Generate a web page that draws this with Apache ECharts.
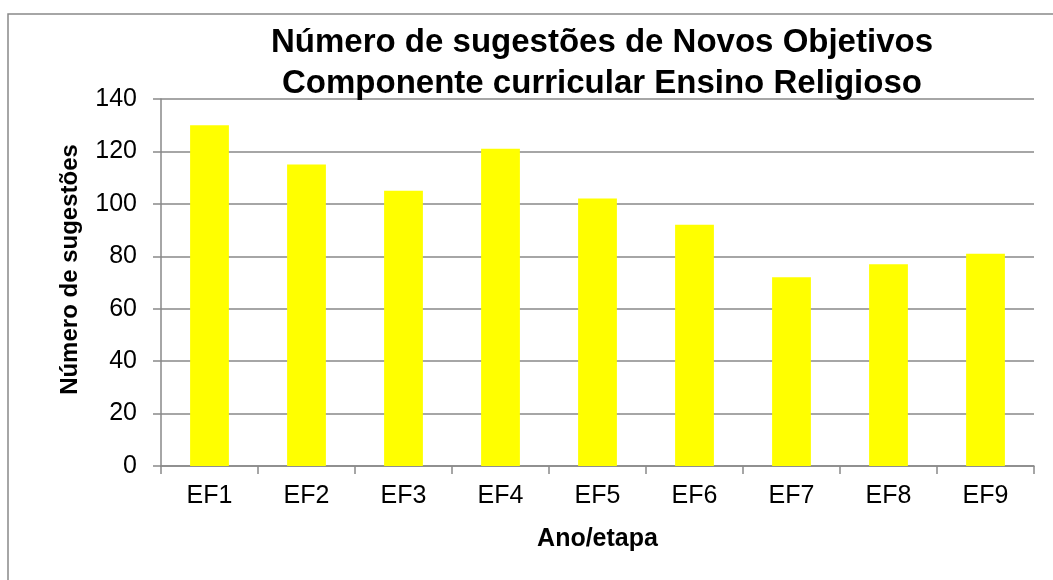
<!DOCTYPE html>
<html>
<head>
<meta charset="utf-8">
<script src="https://cdn.jsdelivr.net/npm/echarts@6/dist/echarts.min.js"></script>
<style>
  html, body { margin: 0; padding: 0; background: #fff; }
  #chart { width: 1053px; height: 580px; }
</style>
</head>
<body>
<div id="chart"></div>
<script>
const categories = ["EF1", "EF2", "EF3", "EF4", "EF5", "EF6", "EF7", "EF8", "EF9"];
const suggestions = [130, 115, 105, 121, 102, 92, 72, 77, 81];
const yTicks = { min: 0, max: 140, interval: 20 };

const chart = echarts.init(document.getElementById("chart"), null, { renderer: "canvas" });
const font = "Liberation Sans, Arial, sans-serif";
const gray = "#898989";

chart.setOption({
  animation: false,
  textStyle: { fontFamily: font },
  graphic: [
    {
      type: "rect",
      shape: { x: 8, y: 14, width: 1060, height: 600 },
      style: { fill: "none", stroke: gray, lineWidth: 1.5 },
      silent: true
    }
  ],
  title: {
    text: "Número de sugestões de Novos Objetivos\nComponente curricular Ensino Religioso",
    left: 597,
    textAlign: "center",
    top: 17,
    textStyle: { fontFamily: font, fontSize: 33, fontWeight: "bold", color: "#000", lineHeight: 41 }
  },
  grid: { left: 161, right: 19, top: 99, bottom: 114, containLabel: false },
  xAxis: {
    type: "category",
    data: categories,
    name: "Ano/etapa",
    nameLocation: "middle",
    nameGap: 61,
    nameTextStyle: { fontFamily: font, fontSize: 25, fontWeight: "bold", color: "#000" },
    axisLine: { lineStyle: { color: gray, width: 1.5 } },
    axisTick: { show: true, length: 8, lineStyle: { color: gray, width: 1.5 } },
    axisLabel: { fontFamily: font, fontSize: 25, color: "#000", margin: 18 }
  },
  yAxis: {
    type: "value",
    min: yTicks.min,
    max: yTicks.max,
    interval: yTicks.interval,
    name: "Número de sugestões",
    nameLocation: "middle",
    nameGap: 79,
    nameTextStyle: { fontFamily: font, fontSize: 24, fontWeight: "bold", color: "#000", padding: [0, 0, 0, 26] },
    axisLine: { show: true, lineStyle: { color: gray, width: 1.5 } },
    axisTick: { show: true, length: 8, lineStyle: { color: gray, width: 1.5 } },
    axisLabel: { fontFamily: font, fontSize: 25, color: "#000", margin: 24 },
    splitLine: { lineStyle: { color: gray, width: 1.5 } }
  },
  series: [
    {
      type: "bar",
      data: suggestions,
      barWidth: "40%",
      itemStyle: { color: "#FFFF00" }
    }
  ]
});
</script>
</body>
</html>
